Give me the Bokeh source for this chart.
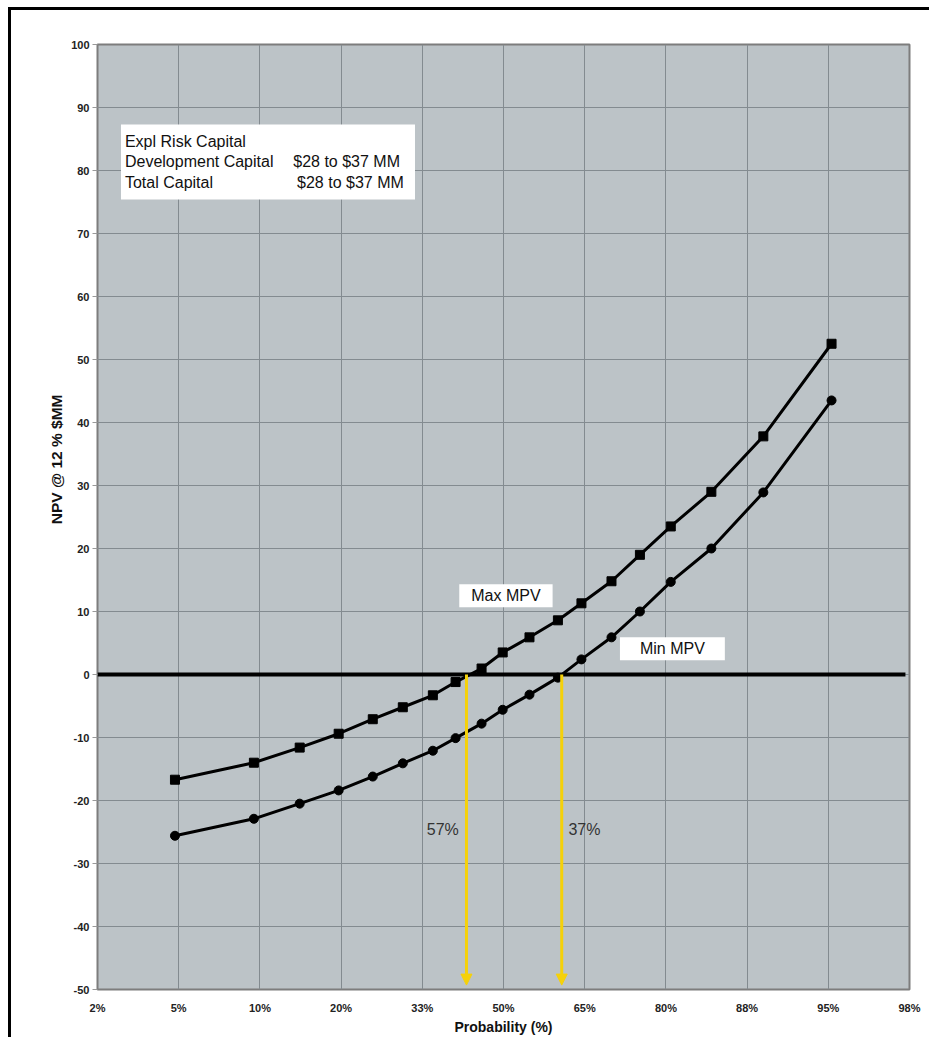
import math
from bokeh.plotting import figure
from bokeh.models import Range1d, FixedTicker, Label, BoxAnnotation, Arrow, NormalHead, Title
from bokeh.embed import file_html
from bokeh.resources import INLINE

# ---------------- data ----------------
x_tick_labels = ["2%", "5%", "10%", "20%", "33%", "50%", "65%", "80%", "88%", "95%", "98%"]
y_ticks = [-50, -40, -30, -20, -10, 0, 10, 20, 30, 40, 50, 60, 70, 80, 90, 100]

# probability positions of the 19 points (axis units, 0 = 2%, 10 = 98%)
prob_pos = [0.954, 1.926, 2.49, 2.97, 3.39, 3.76, 4.13, 4.41, 4.73, 4.99,
            5.32, 5.67, 5.96, 6.33, 6.68, 7.06, 7.56, 8.20, 9.04]
max_npv = [-16.7, -14.0, -11.6, -9.4, -7.1, -5.2, -3.3, -1.2, 0.95, 3.5,
           5.9, 8.6, 11.3, 14.8, 19.0, 23.5, 29.0, 37.8, 52.5]
min_npv = [-25.6, -22.9, -20.5, -18.4, -16.2, -14.1, -12.1, -10.1, -7.8, -5.6,
           -3.2, -0.5, 2.4, 5.9, 10.0, 14.7, 20.0, 28.9, 43.5]

breakeven_pos = [4.544, 5.717]
breakeven_labels = ["57%", "37%"]

FONT = "Liberation Sans"
BG = "#bcc3c7"
GRID = "#838b90"

p = figure(frame_width=812, frame_height=945,
           x_range=Range1d(0, 10), y_range=Range1d(-50, 100),
           output_backend="svg", toolbar_location=None,
           min_border_left=86, min_border_top=34, min_border_right=20, min_border_bottom=45,
           background_fill_color=BG, border_fill_color="white",
           outline_line_color="#7d7d7d", outline_line_width=2,
           styles={"border-left": "3px solid black", "border-top": "3px solid black",
                   "margin-left": "8px", "margin-top": "7px"})

# axes
p.xaxis.ticker = FixedTicker(ticks=list(range(len(x_tick_labels))))
p.xaxis.major_label_overrides = {i: lab for i, lab in enumerate(x_tick_labels)}
p.yaxis.ticker = FixedTicker(ticks=y_ticks)
p.yaxis.major_label_overrides = {v: str(v) for v in y_ticks}
for ax in (p.xaxis[0], p.yaxis[0]):
    ax.axis_line_color = None
    ax.minor_tick_line_color = None
    ax.major_label_text_font = FONT
    ax.major_label_text_font_style = "bold"
    ax.major_label_text_font_size = "11px"
    ax.major_label_text_color = "#222222"
p.xaxis.major_tick_line_color = None
p.xaxis.major_label_standoff = 6
p.yaxis.major_tick_line_color = "#999999"
p.yaxis.major_tick_out = 5
p.yaxis.major_tick_in = 0
p.yaxis.major_label_standoff = 3

p.xaxis.axis_label = "Probability (%)"
p.xaxis.axis_label_text_font = FONT
p.xaxis.axis_label_text_font_style = "bold"
p.xaxis.axis_label_text_font_size = "14px"
p.xaxis.axis_label_text_color = "#111111"
p.xaxis.axis_label_standoff = 2

p.xgrid.grid_line_color = GRID
p.ygrid.grid_line_color = GRID
p.xgrid.grid_line_width = 1
p.ygrid.grid_line_width = 1

# y axis title (left side, shifted upward like the original)
p.add_layout(Title(text="NPV @ 12 % $MM", align="right", offset=350,
                   text_font=FONT, text_font_style="bold", text_font_size="15.5px",
                   text_color="#111111", standoff=8), "left")

# zero line
p.segment(x0=[0], y0=[0], x1=[9.95], y1=[0], line_color="black", line_width=4)

# curves
p.line(prob_pos, max_npv, line_color="black", line_width=3)
p.scatter(prob_pos, max_npv, marker="square", size=9, fill_color="black", line_color="black")
p.line(prob_pos, min_npv, line_color="black", line_width=3)
p.scatter(prob_pos, min_npv, marker="circle", size=9, fill_color="black", line_color="black")

# yellow arrows
for xp in breakeven_pos:
    p.add_layout(Arrow(x_start=xp, y_start=0, x_end=xp, y_end=-49.3,
                       line_color="#f5d10a", line_width=3,
                       end=NormalHead(size=11, fill_color="#f5d10a", line_color="#f5d10a")))

p.add_layout(Label(x=4.45, y=-24.6, text=breakeven_labels[0], text_align="right",
                   text_baseline="middle", text_font=FONT, text_font_size="16px",
                   text_color="#333333"))
p.add_layout(Label(x=5.80, y=-24.6, text=breakeven_labels[1], text_align="left",
                   text_baseline="middle", text_font=FONT, text_font_size="16px",
                   text_color="#333333"))

# curve labels
p.add_layout(Label(x=5.03, y=12.5, text="Max MPV", text_align="center",
                   text_baseline="middle", text_font=FONT, text_font_size="16px",
                   text_color="#111111", background_fill_color="white", padding=(12, 3)))
p.add_layout(Label(x=7.08, y=4.1, text="Min MPV", text_align="center",
                   text_baseline="middle", text_font=FONT, text_font_size="16px",
                   text_color="#111111", background_fill_color="white", padding=(20, 3)))

# capital info box
p.add_layout(BoxAnnotation(left=0.289, right=3.91, top=87.3, bottom=75.4,
                           fill_color="white", fill_alpha=1.0, line_color=None))
info_left = ["Expl Risk  Capital", "Development Capital", "Total Capital"]
info_right = ["", "$28 to $37 MM", "$28 to $37 MM"]
info_y = [84.6, 81.4, 78.15]
info_right_x = [3.725, 3.725, 3.772]
for tl, tr, yy, xr in zip(info_left, info_right, info_y, info_right_x):
    p.add_layout(Label(x=0.338, y=yy, text=tl, text_align="left", text_baseline="middle",
                       text_font=FONT, text_font_size="16px", text_color="#111111"))
    if tr:
        p.add_layout(Label(x=xr, y=yy, text=tr, text_align="right", text_baseline="middle",
                           text_font=FONT, text_font_size="16px", text_color="#111111"))

open("out.html", "w").write(file_html(p, INLINE))
